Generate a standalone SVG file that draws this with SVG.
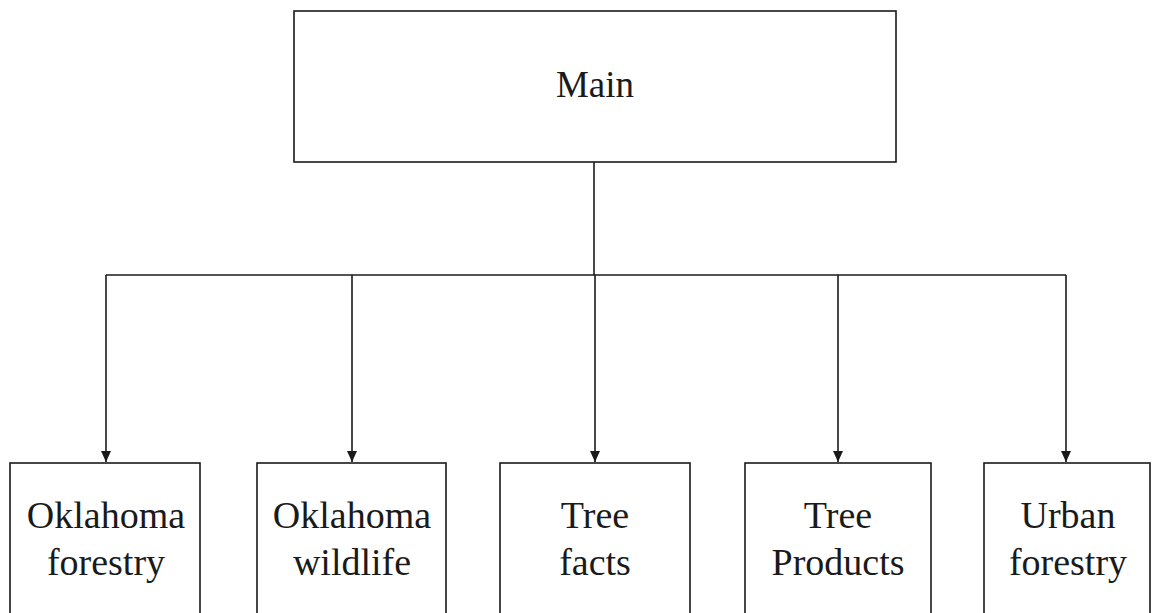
<svg xmlns="http://www.w3.org/2000/svg" width="1153" height="613" viewBox="0 0 1153 613">
<defs>
<style>
.box{fill:#fff;stroke:#1a1a1a;stroke-width:1.6}
.ln{fill:none;stroke:#1a1a1a;stroke-width:1.6}
.t{font-family:"Liberation Serif","Times New Roman",serif;font-size:37px;fill:#1a1a1a;text-anchor:middle}
.c{font-size:38px}
</style>
<marker id="ah" markerWidth="12" markerHeight="12" refX="11" refY="5.5" orient="auto" markerUnits="userSpaceOnUse">
<path d="M0,0.5 L11,5.5 L0,10.5 Z" fill="#1a1a1a"/>
</marker>
</defs>
<rect width="1153" height="613" fill="#fff"/>
<g id="connectors">
<path class="ln" d="M594,162 V275"/>
<path class="ln" d="M106,275 H1066"/>
<path class="ln" d="M106,275 V462" marker-end="url(#ah)"/>
<path class="ln" d="M352,275 V462" marker-end="url(#ah)"/>
<path class="ln" d="M595,275 V462" marker-end="url(#ah)"/>
<path class="ln" d="M838,275 V462" marker-end="url(#ah)"/>
<path class="ln" d="M1066,275 V462" marker-end="url(#ah)"/>
</g>
<g id="main">
<rect class="box" x="294" y="11" width="602" height="151"/>
<text class="t" x="595" y="97">Main</text>
</g>
<g id="ok-forestry">
<rect class="box" x="10" y="463" width="190" height="160"/>
<text class="t c" x="106" y="528">Oklahoma</text>
<text class="t c" x="106" y="575">forestry</text>
</g>
<g id="ok-wildlife">
<rect class="box" x="257" y="463" width="189" height="160"/>
<text class="t c" x="352" y="528">Oklahoma</text>
<text class="t c" x="352" y="575">wildlife</text>
</g>
<g id="tree-facts">
<rect class="box" x="500" y="463" width="190" height="160"/>
<text class="t c" x="595" y="528">Tree</text>
<text class="t c" x="595" y="575">facts</text>
</g>
<g id="tree-products">
<rect class="box" x="745" y="463" width="186" height="160"/>
<text class="t c" x="838" y="528">Tree</text>
<text class="t c" x="838" y="575">Products</text>
</g>
<g id="urban-forestry">
<rect class="box" x="984" y="463" width="166" height="160"/>
<text class="t c" x="1068" y="528">Urban</text>
<text class="t c" x="1068" y="575">forestry</text>
</g>
</svg>
